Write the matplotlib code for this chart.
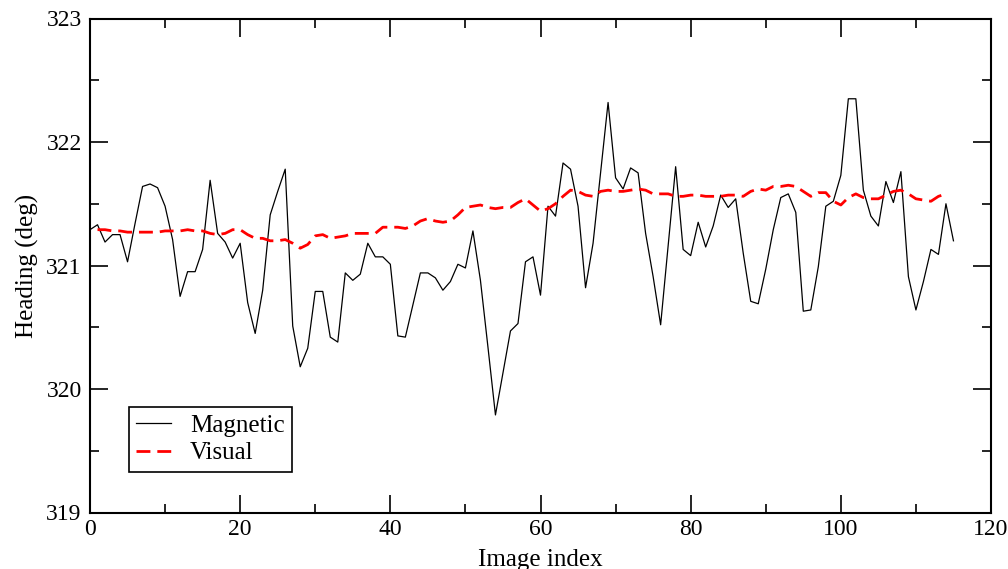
import matplotlib
matplotlib.use('Agg')
import matplotlib.pyplot as plt
from matplotlib.ticker import MultipleLocator

plt.rcParams['font.family'] = ['Liberation Serif', 'DejaVu Serif']

# heading from the magnetometer, one value per image (index 0..115)
magnetic = [
    321.29, 321.33, 321.19, 321.25, 321.25, 321.03, 321.34, 321.64, 321.66, 321.63,
    321.48, 321.21, 320.75, 320.95, 320.95, 321.13, 321.69, 321.26, 321.19, 321.06,
    321.18, 320.70, 320.45, 320.80, 321.41, 321.60, 321.78, 320.51, 320.18, 320.33,
    320.79, 320.79, 320.42, 320.38, 320.94, 320.88, 320.93, 321.18, 321.07, 321.07,
    321.01, 320.43, 320.42, 320.68, 320.94, 320.94, 320.90, 320.80, 320.87, 321.01,
    320.98, 321.28, 320.88, 320.34, 319.79, 320.13, 320.47, 320.53, 321.03, 321.07,
    320.76, 321.48, 321.40, 321.83, 321.78, 321.48, 320.82, 321.18, 321.75, 322.32,
    321.71, 321.62, 321.79, 321.75, 321.26, 320.91, 320.52, 321.16, 321.80, 321.13,
    321.08, 321.35, 321.15, 321.32, 321.57, 321.47, 321.54, 321.10, 320.71, 320.69,
    320.97, 321.29, 321.55, 321.58, 321.43, 320.63, 320.64, 320.99, 321.48, 321.52,
    321.73, 322.35, 322.35, 321.61, 321.40, 321.32, 321.68, 321.51, 321.76, 320.91,
    320.64, 320.87, 321.13, 321.09, 321.50, 321.20,
]
mag_idx = list(range(len(magnetic)))

# heading from the visual estimate (index 1..114)
visual = [
    321.29, 321.29, 321.28, 321.28, 321.27, 321.27, 321.27, 321.27, 321.27,
    321.28, 321.28, 321.28, 321.29, 321.28, 321.28, 321.26, 321.25, 321.26, 321.29,
    321.29, 321.25, 321.22, 321.22, 321.20, 321.20, 321.21, 321.18, 321.14, 321.17,
    321.24, 321.25, 321.22, 321.23, 321.24, 321.26, 321.26, 321.26, 321.26, 321.31,
    321.31, 321.31, 321.30, 321.32, 321.36, 321.38, 321.36, 321.35, 321.36, 321.41,
    321.47, 321.48, 321.49, 321.47, 321.46, 321.47, 321.47, 321.51, 321.54, 321.49,
    321.44, 321.46, 321.50, 321.56, 321.61, 321.60, 321.57, 321.56, 321.60, 321.61,
    321.60, 321.60, 321.61, 321.62, 321.61, 321.58, 321.58, 321.58, 321.56, 321.56,
    321.57, 321.57, 321.56, 321.56, 321.56, 321.57, 321.57, 321.56, 321.60, 321.62,
    321.61, 321.64, 321.64, 321.65, 321.64, 321.60, 321.56, 321.59, 321.59, 321.52,
    321.49, 321.55, 321.58, 321.55, 321.54, 321.54, 321.57, 321.60, 321.61, 321.58,
    321.54, 321.53, 321.52, 321.56, 321.58,
]
vis_idx = list(range(1, len(visual) + 1))

fig = plt.figure(figsize=(10.08, 5.69), dpi=100)
ax = fig.add_axes([90 / 1008, 1 - 512.5 / 569, 901 / 1008, 494 / 569])

ax.plot(mag_idx, magnetic, color='black', lw=0.9, label='Magnetic')
ax.plot(vis_idx, visual, color='red', lw=2.0, ls=(0, (5, 2.5)), label='Visual')

ax.set_xlim(0, 120)
ax.set_ylim(319, 323)
ax.xaxis.set_major_locator(MultipleLocator(20))
ax.xaxis.set_minor_locator(MultipleLocator(10))
ax.yaxis.set_major_locator(MultipleLocator(1))
ax.yaxis.set_minor_locator(MultipleLocator(0.5))
ax.tick_params(which='both', direction='in', top=True, right=True, labelsize=17, width=1.2)
ax.tick_params(which='major', length=13)
ax.tick_params(which='minor', length=6.5)
ax.tick_params(axis='x', pad=5)
ax.tick_params(axis='y', pad=6)
for s in ax.spines.values():
    s.set_linewidth(1.5)

ax.set_xlabel('Image index', fontsize=18, labelpad=6)
ax.set_ylabel('Heading (deg)', fontsize=18, labelpad=5)

leg = ax.legend(loc='lower left', bbox_to_anchor=(0.043, 0.082), fontsize=18,
                fancybox=False, framealpha=1, edgecolor='black', borderaxespad=0,
                handlelength=1.4, handletextpad=0.75, borderpad=0.3, labelspacing=0.2)
leg.get_frame().set_linewidth(1.2)

fig.savefig('out.png', dpi=100)
